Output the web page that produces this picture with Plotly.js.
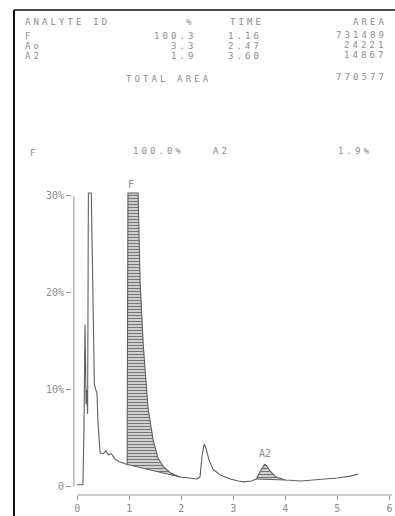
<!DOCTYPE html>
<html>
<head>
<meta charset="utf-8">
<script src="https://cdn.plot.ly/plotly-3.0.1.min.js"></script>
<style>html,body{margin:0;padding:0;background:#fff;}#chart{width:395px;height:516px;}</style>
</head>
<body>
<div id="chart"></div>
<script>
// ---- report table (as printed) ----
const analytes = ["F", "Ao", "A2"];
const percents = ["100.3", "3.3", "1.9"];
const times = ["1.16", "2.47", "3.60"];
const areas = ["731489", "24221", "14867"];
const totalLabel = "TOTAL AREA";
const totalArea = "770577";
const ratioRow = ["F", "100.0%", "A2", "1.9%"];
const headers = ["ANALYTE ID", "%", "TIME", "AREA"];

// ---- chromatogram trace (time in min, signal in %) ----
const chromX = [0.00, 0.11, 0.13, 0.15, 0.16, 0.17, 0.185, 0.20, 0.215, 0.27, 0.29, 0.31, 0.33, 0.38, 0.40, 0.44,
  0.50, 0.55, 0.60, 0.66, 0.72, 0.80, 0.90, 0.96, 0.975, 1.17, 1.21, 1.27, 1.36, 1.46, 1.55, 1.65, 1.80, 1.98,
  2.15, 2.30, 2.36, 2.40, 2.44, 2.48, 2.53, 2.61, 2.75, 2.94, 3.10, 3.20, 3.35, 3.44, 3.52, 3.60, 3.64, 3.71,
  3.82, 4.00, 4.30, 4.60, 5.00, 5.25, 5.40];
const chromY = [0.2, 0.2, 6.0, 16.7, 13.0, 8.5, 10.0, 7.5, 30.3, 30.3, 24.0, 16.0, 10.5, 9.6, 6.6, 3.5,
  3.4, 3.7, 3.3, 3.4, 2.9, 2.6, 2.4, 2.3, 30.3, 30.3, 21.0, 14.6, 8.2, 4.8, 3.0, 2.1, 1.4, 1.0,
  0.9, 0.8, 1.0, 3.2, 4.4, 3.9, 2.8, 1.8, 1.2, 0.8, 0.6, 0.5, 0.6, 0.8, 1.6, 2.3, 2.2, 1.6,
  1.0, 0.7, 0.6, 0.7, 0.9, 1.1, 1.3];

// integrated (shaded) peaks: start / end times, and their labels
const shadedStart = [0.96, 3.44];
const shadedEnd = [1.98, 4.00];
const peakLabels = ["F", "A2"];
const peakLabelX = [1.03, 3.6];
const peakLabelY = [30.35, 2.7];

// axis ticks
const xTicks = [0, 1, 2, 3, 4, 5, 6];
const yTicks = [0, 10, 20, 30];
const yTickText = ["0", "10%", "20%", "30%"];

// ---- layout geometry helpers ----
const W = 395, H = 516;
const M = {l: 72, r: 3, t: 191, b: 21};
const PW = W - M.l - M.r, PH = H - M.t - M.b;
const px = x => (x - M.l) / PW;
const py = y => 1 - (y - M.t) / PH;

const txtColor = "#8c8c8c";
const mono = "DejaVu Sans Mono, Liberation Mono, monospace";
const lineColor = "#606060";
const wide = s => '<span style="letter-spacing:3.1px">' + s + '</span>';

const traces = [];
shadedStart.forEach((s, k) => {
  const e = shadedEnd[k];
  const i0 = chromX.indexOf(s), i1 = chromX.indexOf(e);
  traces.push({
    x: [chromX[i0], chromX[i1]], y: [chromY[i0], chromY[i1]],
    mode: "lines", line: {color: lineColor, width: 1}, hoverinfo: "skip", showlegend: false
  });
  traces.push({
    x: chromX.slice(i0, i1 + 1), y: chromY.slice(i0, i1 + 1),
    mode: "lines", line: {color: lineColor, width: 0}, fill: "tonexty",
    fillcolor: "rgba(150,150,150,0.5)",
    fillpattern: {shape: "-", fgcolor: "#777", bgcolor: "rgba(190,190,190,0.75)", size: 3, solidity: 0.35},
    hoverinfo: "skip", showlegend: false
  });
});
traces.push({
  x: chromX, y: chromY, mode: "lines",
  line: {color: lineColor, width: 1.1}, showlegend: false
});

const ann = [];
function t(text, x, y, anchor, size) {
  ann.push({text: wide(text), xref: "paper", yref: "paper", x: px(x), y: py(y),
    xanchor: anchor, yanchor: "middle", showarrow: false, borderpad: 0,
    font: {family: mono, size: size || 9, color: txtColor}});
}
t(headers[0], 24, 22, "left");
t(headers[1], 190, 22, "center");
t(headers[2], 247, 22, "center");
t(headers[3], 388, 22, "right");
const rowY = [36, 46, 56];
analytes.forEach((a, i) => {
  t(a, 24, rowY[i], "left");
  t(percents[i], 198, rowY[i], "right");
  t(times[i], 263, rowY[i], "right");
  t(areas[i], 388, rowY[i] - 1, "right");
});
t(totalLabel, 168, 79, "center");
t(totalArea, 388, 77, "right");
t(ratioRow[0], 29, 153, "left");
t(ratioRow[1], 185, 151, "right");
t(ratioRow[2], 221, 151, "center");
t(ratioRow[3], 373, 151, "right");

peakLabels.forEach((l, i) => {
  ann.push({text: l, x: peakLabelX[i], y: peakLabelY[i], xref: "x", yref: "y",
    yanchor: "bottom", showarrow: false, font: {family: mono, size: 10, color: txtColor}});
});

const shapes = [
  // page border (scan edge)
  {type: "line", xref: "paper", yref: "paper", x0: px(14), x1: px(14), y0: py(10), y1: py(516), line: {color: "#111", width: 2}},
  {type: "line", xref: "paper", yref: "paper", x0: px(14), x1: px(395), y0: py(10), y1: py(10), line: {color: "#111", width: 1.5}},
  // y axis line from 0 to 30%
  {type: "line", xref: "paper", yref: "y", x0: 0.006, x1: 0.006, y0: 0, y1: 30, line: {color: "#999", width: 1}},
  // x axis line
  {type: "line", xref: "x", yref: "paper", x0: 0, x1: 6.05, y0: 0, y1: 0, line: {color: "#999", width: 1}}
];

const layout = {
  width: W, height: H,
  margin: M,
  paper_bgcolor: "#fff", plot_bgcolor: "#fff",
  showlegend: false,
  xaxis: {
    range: [-0.1, 6.05], tickvals: xTicks, ticktext: xTicks.map(String),
    ticks: "outside", ticklen: 4, tickcolor: "#999", showgrid: false, zeroline: false, showline: false,
    tickfont: {family: mono, size: 10, color: txtColor}, fixedrange: true
  },
  yaxis: {
    range: [-0.85, 30.5], tickvals: yTicks, ticktext: yTickText,
    ticks: "outside", ticklen: 5, tickcolor: "#999", showgrid: false, zeroline: false, showline: false,
    tickfont: {family: mono, size: 10, color: txtColor}, fixedrange: true
  },
  annotations: ann,
  shapes: shapes
};

Plotly.newPlot("chart", traces, layout, {displayModeBar: false, staticPlot: true});
</script>
</body>
</html>
